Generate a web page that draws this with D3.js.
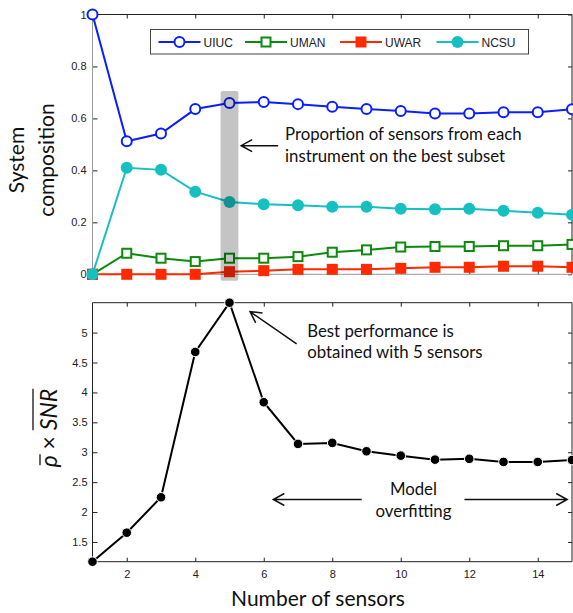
<!DOCTYPE html>
<html>
<head>
<meta charset="utf-8">
<script src="https://cdn.jsdelivr.net/npm/d3@7"></script>
<style>
  body { margin: 0; background: #fff; }
  svg { display: block; }
  .tick text { font-family: "Liberation Sans", Arial, sans-serif; font-size: 11px; fill: #222; }
  .tick line { stroke: #222; }
  .note { font-family: Lato, "Open Sans", sans-serif; font-size: 16.8px; fill: #111; }
  .lab { font-family: Lato, "Open Sans", sans-serif; font-size: 21px; fill: #111; }
</style>
</head>
<body>
<div class="chart"></div>
<script>
// number of sensors
var sensors = [1, 2, 3, 4, 5, 6, 7, 8, 9, 10, 11, 12, 13, 14, 15];

// system composition per instrument
var uiuc = [1.0, 0.512, 0.542, 0.636, 0.659, 0.663, 0.655, 0.645, 0.636, 0.629, 0.619, 0.619, 0.624, 0.624, 0.635];
var uman = [0, 0.081, 0.062, 0.049, 0.062, 0.062, 0.068, 0.085, 0.094, 0.105, 0.107, 0.107, 0.110, 0.110, 0.115];
var uwar = [0, 0, 0, 0, 0.010, 0.014, 0.019, 0.019, 0.019, 0.023, 0.027, 0.027, 0.031, 0.031, 0.027];
var ncsu = [0, 0.410, 0.402, 0.318, 0.278, 0.270, 0.266, 0.260, 0.260, 0.252, 0.250, 0.252, 0.245, 0.237, 0.229];

// rho x SNR performance
var perf = [1.17, 1.655, 2.247, 4.677, 5.5, 3.836, 3.139, 3.156, 3.016, 2.943, 2.876, 2.89, 2.838, 2.838, 2.87];

var topTicks = [0, 0.2, 0.4, 0.6, 0.8, 1];
var botTicks = [1.5, 2, 2.5, 3, 3.5, 4, 4.5, 5];
var xTicks = [2, 4, 6, 8, 10, 12, 14];

var legendLabels = ["UIUC", "UMAN", "UWAR", "NCSU"];

var W = 573, H = 613;

var svg = d3.select(".chart").append("svg")
    .attr("width", W)
    .attr("height", H);

var x = d3.scaleLinear().domain([1, 15]).range([92.5, 572]);
var yTop = d3.scaleLinear().domain([0, 1]).range([274.3, 14.5]);
var yBot = d3.scaleLinear().domain([1.17, 5.5]).range([561.7, 302.7]);

var series = [
    {name: "UIUC", values: uiuc, color: "#0a1fff", shape: "circle", fill: "#fff"},
    {name: "UMAN", values: uman, color: "#0b8a0b", shape: "square", fill: "#fff"},
    {name: "UWAR", values: uwar, color: "#ff2a00", shape: "square", fill: "#ff2a00"},
    {name: "NCSU", values: ncsu, color: "#17c0c0", shape: "circle", fill: "#17c0c0"}
];

function drawMarker(g, s, cx, cy) {
    if (s.shape === "circle") {
        g.append("circle")
            .attr("cx", cx).attr("cy", cy)
            .attr("r", s.fill === "#fff" ? 5 : 6)
            .attr("fill", s.fill)
            .attr("stroke", s.color)
            .attr("stroke-width", s.fill === "#fff" ? 2 : 0);
    } else {
        var sz = s.fill === "#fff" ? 9 : 11;
        g.append("rect")
            .attr("x", cx - sz / 2).attr("y", cy - sz / 2)
            .attr("width", sz).attr("height", sz)
            .attr("fill", s.fill)
            .attr("stroke", s.color)
            .attr("stroke-width", s.fill === "#fff" ? 2 : 0);
    }
}

// ---- frames and ticks ----
function frame(yScale, leftColor, bottomColor, ticksY, withXLabels) {
    var x0 = x.range()[0], x1 = x.range()[1];
    var yb = yScale.range()[0], yt = yScale.range()[1];

    svg.append("g")
        .attr("transform", "translate(" + x0 + ",0)")
        .call(d3.axisLeft(yScale).tickValues(ticksY).tickSize(-5).tickPadding(withXLabels ? 5 : 6)
            .tickFormat(d3.format("")))
        .call(function (g) { g.select(".domain").remove(); });

    svg.append("g")
        .attr("transform", "translate(" + x1 + ",0)")
        .call(d3.axisRight(yScale).tickValues(ticksY).tickSize(-4).tickFormat(""))
        .call(function (g) { g.select(".domain").remove(); });

    svg.append("g")
        .attr("transform", "translate(0," + yt + ")")
        .call(d3.axisTop(x).tickValues(xTicks).tickSize(-4).tickFormat(""))
        .call(function (g) { g.select(".domain").remove(); });

    var bottom = d3.axisBottom(x).tickValues(xTicks).tickSize(-4).tickPadding(9);
    if (!withXLabels) bottom.tickFormat("");
    svg.append("g")
        .attr("transform", "translate(0," + yb + ")")
        .call(bottom)
        .call(function (g) { g.select(".domain").remove(); });

    svg.append("line").attr("x1", x0).attr("x2", x1).attr("y1", yt).attr("y2", yt)
        .attr("stroke", "#222").attr("stroke-width", 1);
    svg.append("line").attr("x1", x1).attr("x2", x1).attr("y1", yt).attr("y2", yb)
        .attr("stroke", "#222").attr("stroke-width", 1);
    svg.append("line").attr("x1", x0).attr("x2", x0).attr("y1", yt).attr("y2", yb)
        .attr("stroke", leftColor).attr("stroke-width", 1);
    svg.append("line").attr("x1", x0).attr("x2", x1).attr("y1", yb).attr("y2", yb)
        .attr("stroke", bottomColor).attr("stroke-width", 1);
}

frame(yTop, "#999", "#999", topTicks, false);
frame(yBot, "#222", "#222", botTicks, true);

// ---- top panel series ----
series.forEach(function (s) {
    var line = d3.line()
        .x(function (d, i) { return x(sensors[i]); })
        .y(function (d) { return yTop(d); });
    var g = svg.append("g");
    g.append("path")
        .attr("d", line(s.values))
        .attr("fill", "none")
        .attr("stroke", s.color)
        .attr("stroke-width", 2);
    s.values.forEach(function (v, i) { drawMarker(g, s, x(sensors[i]), yTop(v)); });
});

// best subset highlight bar
svg.append("rect")
    .attr("x", x(4.74)).attr("width", x(5.26) - x(4.74))
    .attr("y", yTop(0.706)).attr("height", yTop(-0.025) - yTop(0.706))
    .attr("rx", 2)
    .attr("fill", "#000").attr("fill-opacity", 0.23);

// legend
var leg = svg.append("g");
leg.append("rect")
    .attr("x", 150.5).attr("y", 29.5).attr("width", 378).attr("height", 24.5)
    .attr("fill", "#fff").attr("stroke", "#444").attr("stroke-width", 1);
var legX = [158.5, 245, 340, 436.5];
series.forEach(function (s, i) {
    var lx = legX[i];
    leg.append("line").attr("x1", lx).attr("x2", lx + 42).attr("y1", 42).attr("y2", 42)
        .attr("stroke", s.color).attr("stroke-width", 2);
    drawMarker(leg, s, lx + 21, 42);
    leg.append("text").attr("x", lx + 45).attr("y", 46.5)
        .style("font-family", "'Liberation Sans', Arial, sans-serif")
        .style("font-size", "12px").attr("fill", "#222")
        .text(legendLabels[i]);
});

// ---- bottom panel ----
var pline = d3.line()
    .x(function (d, i) { return x(sensors[i]); })
    .y(function (d) { return yBot(d); });
svg.append("path")
    .attr("d", pline(perf))
    .attr("fill", "none").attr("stroke", "#000").attr("stroke-width", 2);
svg.append("g").selectAll("circle")
    .data(perf)
    .enter().append("circle")
    .attr("cx", function (d, i) { return x(sensors[i]); })
    .attr("cy", function (d) { return yBot(d); })
    .attr("r", 4.8)
    .attr("fill", "#000").attr("stroke", "#fff").attr("stroke-width", 1);

// ---- annotations ----
function arrow(xs, ys, x2, y2) {
    var dx = x2 - xs, dy = y2 - ys, L = Math.sqrt(dx * dx + dy * dy);
    var ux = dx / L, uy = dy / L, h = 11, w = 6;
    svg.append("path")
        .attr("d", "M" + xs + "," + ys + "L" + x2 + "," + y2 +
            "M" + (x2 - ux * h - uy * w) + "," + (y2 - uy * h + ux * w) +
            "L" + x2 + "," + y2 +
            "L" + (x2 - ux * h + uy * w) + "," + (y2 - uy * h - ux * w))
        .attr("fill", "none").attr("stroke", "#111").attr("stroke-width", 1.5);
}

arrow(x(6.42), yTop(0.495), x(5.34), yTop(0.495));
svg.append("text").attr("class", "note").attr("x", x(6.62)).attr("y", yTop(0.5165))
    .text("Proportion of sensors from each");
svg.append("text").attr("class", "note").attr("x", x(6.62)).attr("y", yTop(0.433))
    .text("instrument on the best subset");

arrow(x(6.96), yBot(4.81), x(5.6), yBot(5.35));
svg.append("text").attr("class", "note").attr("x", x(7.27)).attr("y", yBot(4.93))
    .text("Best performance is");
svg.append("text").attr("class", "note").attr("x", x(7.27)).attr("y", yBot(4.57))
    .text("obtained with 5 sensors");

arrow(x(8.86), yBot(2.21), x(6.28), yBot(2.21));
arrow(x(11.86), yBot(2.21), x(14.86), yBot(2.21));
svg.append("text").attr("class", "note").attr("x", x(10.37)).attr("y", yBot(2.284))
    .attr("text-anchor", "middle").text("Model");
svg.append("text").attr("class", "note").attr("x", x(10.37)).attr("y", yBot(1.92))
    .attr("text-anchor", "middle").text("overfitting");

// ---- axis labels ----
svg.append("text").attr("class", "lab")
    .attr("transform", "translate(24,160) rotate(-90)")
    .attr("text-anchor", "middle").text("System");
svg.append("text").attr("class", "lab")
    .attr("transform", "translate(54,160) rotate(-90)")
    .attr("text-anchor", "middle").text("composition");

svg.append("text").attr("class", "lab")
    .attr("x", 318).attr("y", 606)
    .attr("text-anchor", "middle").text("Number of sensors");

// rho-bar x SNR-bar label
var yl = svg.append("g").attr("transform", "translate(57,428) rotate(-90)");
var t1 = yl.append("text").attr("class", "lab").style("font-style", "italic").style("font-size", "23px").text("ρ");
var t2 = yl.append("text").attr("class", "lab").style("font-size", "23px").text("\u00a0×\u00a0");
var t3 = yl.append("text").attr("class", "lab").style("font-style", "italic").style("font-size", "23px").text("SNR");
var w1 = t1.node().getComputedTextLength(),
    w2 = t2.node().getComputedTextLength(),
    w3 = t3.node().getComputedTextLength();
var start = -(w1 + w2 + w3) / 2;
t1.attr("x", start);
t2.attr("x", start + w1);
t3.attr("x", start + w1 + w2);
yl.append("line").attr("x1", start + 2).attr("x2", start + w1 + 1).attr("y1", -17).attr("y2", -17)
    .attr("stroke", "#111").attr("stroke-width", 1.3);
yl.append("line").attr("x1", start + w1 + w2).attr("x2", start + w1 + w2 + w3).attr("y1", -24).attr("y2", -24)
    .attr("stroke", "#111").attr("stroke-width", 1.3);
</script>
</body>
</html>
